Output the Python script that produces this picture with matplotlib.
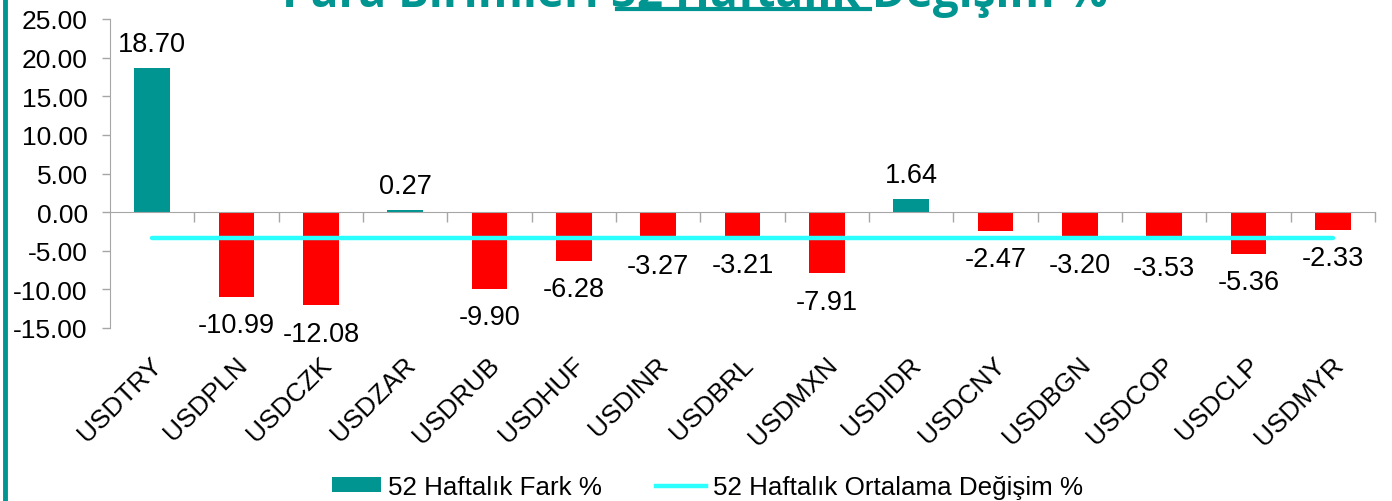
import numpy as np
import matplotlib
matplotlib.use("Agg")
import matplotlib.pyplot as plt
from matplotlib.patches import Patch
from matplotlib.lines import Line2D
from matplotlib.transforms import blended_transform_factory, offset_copy

plt.rcParams['font.family'] = ['Liberation Sans', 'DejaVu Sans']

# data
pairs = ['USDTRY', 'USDPLN', 'USDCZK', 'USDZAR', 'USDRUB', 'USDHUF', 'USDINR', 'USDBRL',
         'USDMXN', 'USDIDR', 'USDCNY', 'USDBGN', 'USDCOP', 'USDCLP', 'USDMYR']
fark = [18.70, -10.99, -12.08, 0.27, -9.90, -6.28, -3.27, -3.21,
        -7.91, 1.64, -2.47, -3.20, -3.53, -5.36, -2.33]
title_pre = 'Para Birimleri '
title_mid = '52 Haftalık'
title_post = ' Değişim %'
leg_bar = '52 Haftalık Fark %'
leg_line = '52 Haftalık Ortalama Değişim %'

teal = '#009590'
red = '#FF0000'
cyan = '#2BFFFF'
gray = '#A6A6A6'

W, H = 1392, 502
fig = plt.figure(figsize=(W / 100, H / 100), dpi=100)
ax = fig.add_axes([110 / W, 1 - 329 / H, (1375 - 110) / W, (329 - 20) / H])

x = np.arange(len(pairs))
vals = np.array(fark)
colors = [teal if v >= 0 else red for v in vals]
ax.bar(x, vals, width=0.42, color=colors, zorder=2)

avg = vals.mean()
ax.plot([x[0], x[-1]], [avg, avg], color=cyan, lw=3.2, solid_capstyle='round', zorder=3)

for xi, v in zip(x, vals):
    if v >= 0:
        ax.annotate(f'{v:.2f}', (xi, v), xytext=(0, 8), textcoords='offset points',
                    ha='center', va='bottom', fontsize=19.5)
    else:
        ax.annotate(f'{v:.2f}', (xi, v), xytext=(0, -11), textcoords='offset points',
                    ha='center', va='top', fontsize=19.5)

ax.set_xlim(-0.5, len(pairs) - 0.5)
ax.set_ylim(-15, 25)
ax.set_yticks(np.arange(-15, 26, 5))
ax.set_yticklabels([f'{t:.2f}' for t in np.arange(-15, 26, 5)], fontsize=19)
ax.tick_params(axis='y', length=6, color=gray, width=1, pad=10)

for s in ['top', 'right']:
    ax.spines[s].set_visible(False)
ax.spines['left'].set_color(gray)
ax.spines['bottom'].set_color(gray)
ax.spines['bottom'].set_position(('data', 0))

ax.set_xticks(x)
ax.set_xticklabels([])
ax.tick_params(axis='x', which='major', length=0)
ax.set_xticks(np.arange(0.5, len(pairs), 1), minor=True)
ax.tick_params(axis='x', which='minor', length=7, color=gray, width=1)

trans = offset_copy(blended_transform_factory(ax.transData, ax.transAxes), fig=fig, x=-2, y=-24, units='dots')
for xi, name in zip(x, pairs):
    ax.text(xi, 0, name, transform=trans, rotation=45, ha='right', va='top',
            rotation_mode='anchor', fontsize=19)

# title, mostly cut off at the top as in the reference
fig.text(0.499, 1 - 7 / H, title_pre + title_mid + title_post, ha='center', va='baseline',
         fontsize=33, fontweight='bold', color=teal, family=['Open Sans', 'DejaVu Sans'])
fig.add_artist(Line2D([617 / W, 870 / W], [1 - 10 / H, 1 - 10 / H], color=teal, lw=3,
                      transform=fig.transFigure))

# left border
fig.add_artist(Line2D([5 / W, 5 / W], [0, 1], color=teal, lw=3.5, transform=fig.transFigure))

handles = [Patch(facecolor=teal, edgecolor='none'), Line2D([], [], color=cyan, lw=3.2)]
fig.legend(handles, [leg_bar, leg_line], loc='center', bbox_to_anchor=(0.508, 1 - 488 / H),
           ncol=2, frameon=False, handlelength=1.9, handletextpad=0.27,
           columnspacing=2.1, handleheight=0.5, fontsize=18.7)

fig.savefig('out.png', dpi=100)
